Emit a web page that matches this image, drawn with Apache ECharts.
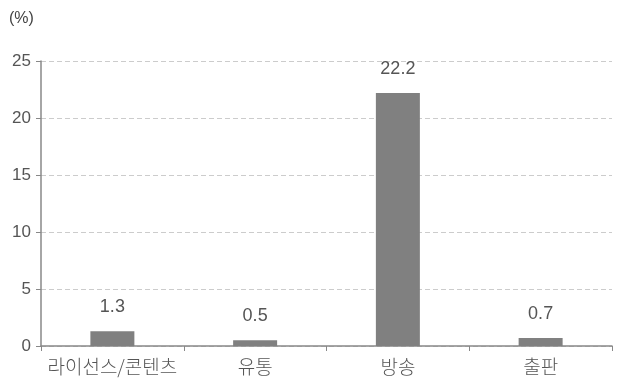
<!DOCTYPE html>
<html><head><meta charset="utf-8">
<script src="https://cdn.jsdelivr.net/npm/echarts@6/dist/echarts.min.js"></script>
<style>html,body{margin:0;padding:0;background:#fff}#c{width:617px;height:383px}</style>
</head><body><div id="c"></div>
<script>
var categories = ['라이선스/콘텐츠', '유통', '방송', '출판'];
var values = [1.3, 0.5, 22.2, 0.7];
var yTicks = [0, 5, 10, 15, 20, 25];
var font = '"Liberation Sans", "Noto Sans CJK KR", sans-serif';
var krFont = '"Noto Sans CJK KR", sans-serif';
var chart = echarts.init(document.getElementById('c'), null, {renderer: 'canvas'});
chart.setOption({
  animation: false,
  grid: {left: 41, right: 5, top: 61, bottom: 37, containLabel: false},
  graphic: [{type: 'text', left: 9, top: 11, style: {text: '(%)', font: '16px ' + font, fill: '#444'}}],
  xAxis: {
    type: 'category', data: categories,
    axisLine: {lineStyle: {color: '#888', width: 1.5}},
    axisTick: {show: true, alignWithLabel: false, length: 5, lineStyle: {color: '#888'}},
    axisLabel: {interval: 0, color: '#555', fontSize: 19, fontFamily: krFont, fontWeight: 300, margin: 11}
  },
  yAxis: {
    type: 'value', min: yTicks[0], max: yTicks[yTicks.length - 1], interval: 5,
    axisLine: {show: true, lineStyle: {color: '#888', width: 1.5}},
    axisTick: {show: true, length: 5, lineStyle: {color: '#888'}},
    axisLabel: {color: '#555', fontSize: 17, fontFamily: font, margin: 10},
    splitLine: {lineStyle: {color: '#ccc', type: [5, 3]}}
  },
  series: [{
    type: 'bar', data: values, barWidth: 44,
    itemStyle: {color: '#808080'},
    label: {show: true, position: 'top', distance: 15, color: '#555', fontSize: 18, fontFamily: font}
  }]
});
</script></body></html>
